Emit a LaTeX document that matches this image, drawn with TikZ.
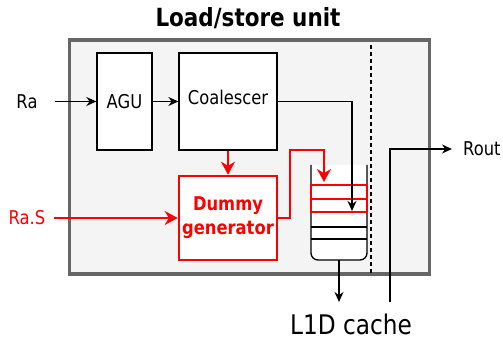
\documentclass[tikz,border=0pt]{standalone}
\usepackage{fontspec}
\setmainfont{DejaVu Sans}[FakeStretch=0.86]
\usetikzlibrary{arrows.meta}
\definecolor{panelfill}{HTML}{F4F4F4}
\definecolor{panelline}{HTML}{666666}
\definecolor{hot}{HTML}{FF0000}
\begin{document}
\begin{tikzpicture}[x=1pt,y=-1pt,
  blk/.style={draw=black, line width=1.3pt, fill=white, inner sep=0pt,
    font=\fontsize{19}{22}\selectfont},
  conn/.style={draw=black, line width=1.3pt, -{Stealth[length=10pt,width=9pt]}},
  redconn/.style={draw=hot, line width=2.6pt, -{Stealth[length=13pt,width=14pt]}},
  lbl/.style={inner sep=0pt, font=\fontsize{19}{22}\selectfont}]
\useasboundingbox (0,0) rectangle (503,344);
\fill[white] (0,0) rectangle (503,344);
% title
\node[inner sep=0pt, font=\fontsize{25}{28}\bfseries\selectfont] (title) at (248,18) {Load/store unit};
% panel
\draw[panelline, fill=panelfill, line width=3.5pt] (69.5,39.8) rectangle (429.3,274);
\draw[black, line width=2pt, dash pattern=on 4pt off 3pt] (371,45) -- (371,273);
% blocks
\node[blk, minimum width=55pt, minimum height=97pt] (agu) at (124.5,101.5) {AGU};
\node[blk, minimum width=98pt, minimum height=97pt, anchor=center] (coal) at (228,101.5) {};
\node[lbl] at (228,97) {Coalescer};
\node[draw=hot, line width=2.6pt, fill=white, inner sep=0pt, minimum width=98pt, minimum height=84pt,
  text=hot, align=center, font=\fontsize{19}{24}\bfseries\selectfont] (dummy) at (228,218) {Dummy\\generator};
% stack
\draw[black, line width=1.3pt, fill=white, rounded corners=7pt] (311,165) -- (311,260) -- (367,260) -- (367,165);
\draw[black, line width=1.3pt] (311,227) -- (367,227) (311,239) -- (367,239);
\draw[hot, line width=1.3pt] (311,185) rectangle (367,199) (311,199) rectangle (367,212);
\coordinate (stackbot) at (339,260);
\coordinate (stackin) at (352,211);
\coordinate (redin) at (324,182);
% labels
\node[lbl] (ra) at (27,102) {Ra};
\node[lbl, text=hot] (ras) at (27,218) {Ra.S};
\node[lbl, anchor=west] (rout) at (463,149) {Rout};
\node[inner sep=0pt, font=\fontsize{27}{30}\selectfont] (l1d) at (351,324) {L1D cache};
% connectors
\draw[conn] (55,101.5) -- (agu.west);
\draw[conn] (agu.east) -- (coal.west);
\draw[conn] (coal.east) -- (352,101.5) -- (stackin);
\draw[redconn] (coal.south) -- (dummy.north);
\draw[redconn] (54,218) -- (dummy.west);
\draw[redconn] (dummy.east) -- (290,218) -- (290,150) -- (324,150) -- (redin);
\draw[conn] (stackbot) -- (339,302);
\coordinate (routstart) at (390,302);
\draw[conn] (routstart) -- (390,149) -- ([xshift=-11pt]rout.west);
\end{tikzpicture}
\end{document}
